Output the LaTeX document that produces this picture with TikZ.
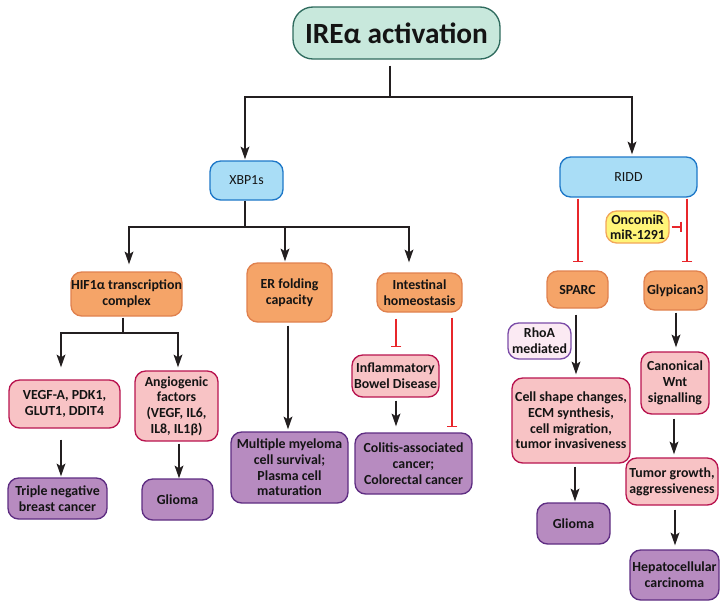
\documentclass[tikz,border=0pt]{standalone}
\usepackage{fontspec}
\setmainfont{Carlito}
\usetikzlibrary{arrows.meta,calc}
\definecolor{mintfill}{HTML}{C8E8DC}
\definecolor{mintdraw}{HTML}{2F6B5E}
\definecolor{bluefill}{HTML}{A9DDF6}
\definecolor{bluedraw}{HTML}{1E78C8}
\definecolor{orfill}{HTML}{F5A468}
\definecolor{ordraw}{HTML}{E0814E}
\definecolor{pkfill}{HTML}{F8C3C5}
\definecolor{pkdraw}{HTML}{B8144F}
\definecolor{pufill}{HTML}{B78BC0}
\definecolor{pudraw}{HTML}{5E2D82}
\definecolor{rhofill}{HTML}{FBEAF3}
\definecolor{rhodraw}{HTML}{7B4CA8}
\definecolor{yelfill}{HTML}{FFF478}
\definecolor{yeldraw}{HTML}{F2A65A}
\definecolor{inhred}{HTML}{E8262B}
\definecolor{arrblack}{HTML}{231F20}
\definecolor{txt}{HTML}{141414}
\newcommand\bx[7]{\node[#2, minimum width={(#5-#3)*0.75pt}, minimum height={(#6-#4)*0.75pt}] (#1) at ({(#3+#5)/2},{(#4+#6)/2}) {#7};}
\tikzset{
  basebox/.style={draw, rounded corners=8pt, line width=1pt, align=center, inner sep=0pt, text=txt,
    font=\bfseries\fontsize{10.4}{11.8}\selectfont},
  titlebox/.style={basebox, fill=mintfill, draw=mintdraw, rounded corners=15pt,
    font=\bfseries\fontsize{22}{26}\selectfont},
  bluebox/.style={basebox, fill=bluefill, draw=bluedraw, font=\fontsize{10.4}{11.8}\selectfont},
  orbox/.style={basebox, fill=orfill, draw=ordraw},
  pkbox/.style={basebox, fill=pkfill, draw=pkdraw},
  pubox/.style={basebox, fill=pufill, draw=pudraw},
  rhobox/.style={basebox, fill=rhofill, draw=rhodraw},
  yelbox/.style={basebox, fill=yelfill, draw=yeldraw},
  ln/.style={draw=arrblack, line width=1.5pt},
  arr/.style={ln, -{Stealth[length=9.5pt,width=6.5pt,inset=2pt]}},
  inh/.style={draw=inhred, line width=1.2pt, -{Bar[width=8pt,line width=1.2pt]}},
}
\begin{document}
\begin{tikzpicture}[x=0.75pt,y=-0.75pt]
\useasboundingbox (0,0) rectangle (728,608);
% boxes
\bx{title}{titlebox}{293}{7}{500}{59}{IREα activation}
\bx{xbp}{bluebox}{210}{161}{283}{200}{XBP1s}
\bx{ridd}{bluebox}{560}{157}{697}{197}{RIDD}
\bx{hif}{orbox}{71}{272}{182}{316}{HIF1α transcription\\complex}
\bx{er}{orbox}{247}{263}{332}{322}{ER folding\\capacity}
\bx{int}{orbox}{377}{273}{462}{312}{Intestinal\\homeostasis}
\bx{vegf}{pkbox}{9}{380}{120}{428}{VEGF-A, PDK1,\\GLUT1, DDIT4}
\bx{ang}{pkbox}{135}{371}{218}{441}{Angiogenic\\factors\\(VEGF, IL6,\\IL8, IL1β)}
\bx{triple}{pubox}{8}{478}{107}{519}{Triple negative\\breast cancer}
\bx{gliomaA}{pubox}{142}{479}{213}{520}{Glioma}
\bx{mm}{pubox}{231}{432}{348}{503}{Multiple myeloma\\cell survival;\\Plasma cell\\maturation}
\bx{ibd}{pkbox}{352}{355}{439}{397}{Inflammatory\\Bowel Disease}
\bx{colitis}{pubox}{355}{433}{472}{494}{Colitis-associated\\cancer;\\Colorectal cancer}
\bx{oncomir}{yelbox}{606}{211}{669}{243}{OncomiR\\miR-1291}
\bx{sparc}{orbox}{547}{271}{608}{308}{SPARC}
\bx{gly}{orbox}{644}{271}{707}{310}{Glypican3}
\bx{rhoa}{rhobox}{508}{323}{571}{359}{RhoA\\mediated}
\bx{cell}{pkbox}{512}{378}{630}{463}{Cell shape changes,\\ECM synthesis,\\cell migration,\\tumor invasiveness}
\bx{gliomaB}{pubox}{537}{503}{610}{544}{Glioma}
\bx{wnt}{pkbox}{641}{352}{709}{414}{Canonical\\Wnt\\signalling}
\bx{tumor}{pkbox}{626}{458}{718}{505}{Tumor growth,\\aggressiveness}
\bx{hcc}{pubox}{630}{550}{719}{600}{Hepatocellular\\carcinoma}
% junctions
\coordinate (j1) at (390,97);
\coordinate (j2) at (245,227);
\coordinate (j3) at (123,333);
\coordinate (inhend) at (682,227);
% connectors
\draw[ln] ($(title.south)+(-6.5,6)$) -- (j1);
\draw[arr] (j1) -| ($(xbp.north)+(-1.5,-1)$);
\draw[arr] (j1) -| ($(ridd.north)+(3.5,-2)$);
\draw[ln] ($(xbp.south)+(-1.5,0)$) -- (j2);
\draw[arr] (j2) -| ($(hif.north)+(2.5,-7)$);
\draw[arr] (j2) -| ($(er.north)+(-4.5,-1)$);
\draw[arr] (j2) -| ($(int.north)+(-10.5,-10)$);
\draw[ln] ($(hif.south)+(-3.5,1)$) -- (j3);
\draw[arr] (j3) -| ($(vegf.north)+(-3.5,-12)$);
\draw[arr] (j3) -| ($(ang.north)+(1.5,-3)$);
\draw[arr] ($(vegf.south)+(-3.5,11)$) -- ($(triple.north)+(3.5,-1)$);
\draw[arr] ($(ang.south)+(2.5,2)$) -- ($(gliomaA.north)+(1.5,0)$);
\draw[arr] ($(er.south)+(-1.5,3)$) -- ($(mm.north)+(-1.5,-2)$);
\draw[inh] ($(int.south)+(-23.5,6)$) -- ($(ibd.north)+(0.5,-7)$);
\draw[inh] ($(int.south)+(32.5,5)$) -- ($(colitis.north)+(38.5,-5)$);
\draw[arr] ($(ibd.south)+(0.5,3)$) -- ($(colitis.north)+(-17.5,-6)$);
\draw[inh] ($(ridd.south)+(-50.5,1)$) -- ($(sparc.north)+(0.5,-8)$);
\draw[inh] ($(ridd.south)+(58.5,1)$) -- ($(gly.north)+(11.5,-8)$);
\draw[inh] ($(oncomir.east)+(2,0)$) -- (inhend);
\draw[arr] ($(sparc.south)+(-1.5,6)$) -- ($(cell.north)+(5,-3)$);
\draw[arr] ($(cell.south)+(4,3)$) -- ($(gliomaB.north)+(1.5,-1)$);
\draw[arr] ($(gly.south)+(0.5,2)$) -- ($(wnt.north)+(1,-4)$);
\draw[arr] ($(wnt.south)+(-1,4)$) -- ($(tumor.north)+(2,-3)$);
\draw[arr] ($(tumor.south)+(3,4)$) -- ($(hcc.north)+(0.5,-4)$);
\end{tikzpicture}
\end{document}
